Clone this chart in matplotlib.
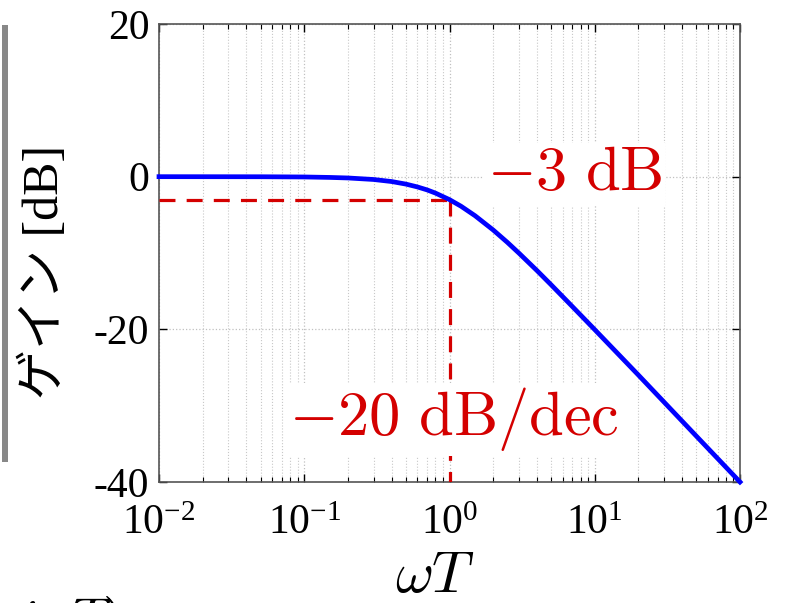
import numpy as np
import matplotlib
matplotlib.use('Agg')
import matplotlib.pyplot as plt
from matplotlib.patches import Rectangle

# gain of first-order lag
w_T = [0.01, 0.05, 0.1, 0.15, 0.2, 0.3, 0.4, 0.5, 0.6, 0.7, 0.8, 1.0,
       1.2, 1.5, 2.0, 2.5, 3.0, 4.0, 5.0, 7.0, 10.0, 20.0, 50.0, 100.0]
gain_db = [0.0, -0.01, -0.04, -0.1, -0.17, -0.37, -0.64, -0.97, -1.34, -1.73, -2.15, -3.01,
           -3.87, -5.12, -6.99, -8.6, -10.0, -12.3, -14.15, -17.0, -20.04, -26.0, -33.98, -40.0]

cutoff_w = 1.0
cutoff_db = -3.0
yticks = [-40, -20, 0, 20]
xticks = [1e-2, 1e-1, 1e0, 1e1, 1e2]
xticklabels = ['$\\mathregular{10^{-2}}$', '$\\mathregular{10^{-1}}$', '$\\mathregular{10^{0}}$',
               '$\\mathregular{10^{1}}$', '$\\mathregular{10^{2}}$']

plt.rcParams['font.family'] = ['Liberation Serif', 'Noto Sans CJK JP']
plt.rcParams['mathtext.fontset'] = 'custom'
plt.rcParams['mathtext.rm'] = 'Liberation Serif'
plt.rcParams['axes.unicode_minus'] = False

fig = plt.figure(figsize=(7.87, 6.03), dpi=100)
ax = fig.add_axes([159/787, 1 - 482/603, (740-159)/787, (482-24)/603])

ax.set_xscale('log')
ax.set_xlim(1e-2, 1e2)
ax.set_ylim(-40, 20)

ax.grid(True, which='major', color='#c0c0c0', linestyle=':', linewidth=0.9)
ax.grid(True, which='minor', axis='x', color='#c8c8c8', linestyle=':', linewidth=0.8)

red = '#d40000'
ax.plot([1e-2, cutoff_w], [cutoff_db, cutoff_db], color=red, lw=2.3, dashes=(5, 3.5), zorder=3)
ax.plot([cutoff_w, cutoff_w], [cutoff_db, -40], color=red, lw=2.3, dashes=(5, 3.5), zorder=3)
ax.plot(w_T, gain_db, color='#0000ff', lw=3.4, zorder=4, clip_on=False)

ax.text(1.81, -1.7, '$-3\\ \\mathrm{dB}$', math_fontfamily='cm', color=red, fontsize=45,
        ha='left', va='baseline', zorder=5,
        bbox=dict(facecolor='white', edgecolor='none', pad=2))
ax.text(0.079, -33.9, '$-20\\ \\mathrm{dB/dec}$', math_fontfamily='cm', color=red, fontsize=45,
        ha='left', va='baseline', zorder=5,
        bbox=dict(facecolor='white', edgecolor='none', pad=2))

ax.set_yticks(yticks)
ax.set_yticklabels([str(v) for v in yticks])
ax.set_xticks(xticks)
ax.set_xticklabels(xticklabels)
ax.tick_params(which='both', direction='in', top=True, right=True, labelsize=30, colors='black')
ax.tick_params(which='major', length=6, width=1)
ax.tick_params(which='minor', length=3.5, width=0.8)
ax.tick_params(axis='y', pad=7)
ax.tick_params(axis='x', pad=16)
for s in ax.spines.values():
    s.set_color('#555555')
    s.set_linewidth(1.2)

fig.text(435/787, 1 - 578/603, '$\\omega T$', math_fontfamily='cm', fontsize=42,
         ha='center', va='center')
fig.text(45/787, 1 - 272/603, 'ゲイン [dB]', fontsize=36, rotation=90,
         ha='center', va='center')
fig.text(12/787, 1 - 594/603, '$j\\omega T)$', math_fontfamily='cm', fontsize=40,
         ha='left', va='top')

fig.patches.append(Rectangle((2/787, 1 - 462/603), 6/787, (462-25)/603,
                             transform=fig.transFigure, facecolor='#888888',
                             edgecolor='none'))

fig.savefig('out.png', dpi=100)
